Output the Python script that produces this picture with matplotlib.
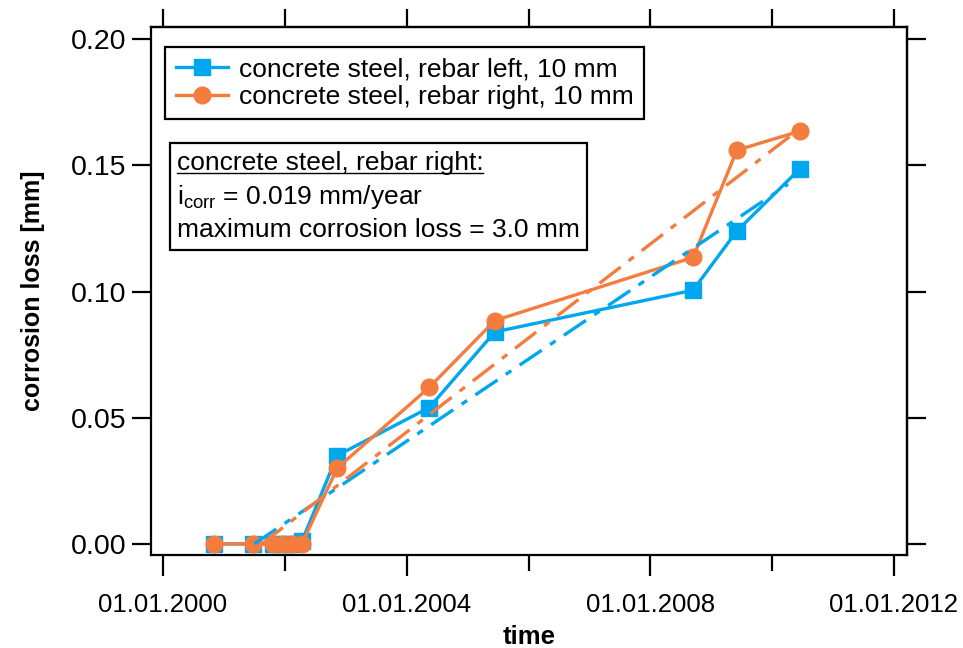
import matplotlib
matplotlib.use("Agg")
import matplotlib.pyplot as plt
import matplotlib.dates as mdates
from matplotlib.patches import Rectangle
from matplotlib.lines import Line2D
import pandas as pd

plt.rcParams['font.family'] = ['Liberation Sans', 'DejaVu Sans']

dates = pd.to_datetime([
    "2000-11-03", "2001-06-24", "2001-10-23", "2001-12-20", "2002-02-14",
    "2002-04-13", "2002-11-10", "2004-05-15", "2005-06-13", "2008-09-13",
    "2009-06-03", "2010-06-14",
])
loss_left = [0.0, 0.0, 0.0, 0.0, 0.0, 0.001, 0.035, 0.054, 0.084, 0.1005, 0.124, 0.1485]
loss_right = [0.0, 0.0, 0.0, 0.0, 0.0, 0.0, 0.030, 0.062, 0.0885, 0.1135, 0.156, 0.1635]

# linear fits (dash-dot), start and end points
fit_left_dates = pd.to_datetime(["2001-07-01", "2010-04-06"])
fit_left_loss = [0.0, 0.1425]
fit_right_dates = pd.to_datetime(["2001-08-15", "2010-05-07"])
fit_right_loss = [0.0, 0.1625]

label_left = "concrete steel, rebar left, 10 mm"
label_right = "concrete steel, rebar right, 10 mm"
info_lines = ["concrete steel, rebar right:",
              r"$\mathregular{i_{corr}}$ = 0.019 mm/year",
              "maximum corrosion loss = 3.0 mm"]

blue = "#00A6EE"
orange = "#F47C3F"
fs = 19

fig = plt.figure(figsize=(9.63, 6.48), dpi=100)
ax = fig.add_axes([151 / 963, 1 - 555 / 648, 756 / 963, 528 / 648])

ax.plot(dates, loss_left, color=blue, lw=2.4, marker='s', ms=12, label=label_left, zorder=3)
ax.plot(dates, loss_right, color=orange, lw=2.4, marker='o', ms=12, label=label_right, zorder=4)
ax.plot(fit_left_dates, fit_left_loss, color=blue, lw=2.4, dashes=(8, 3, 2, 3), zorder=5)
ax.plot(fit_right_dates, fit_right_loss, color=orange, lw=2.4, dashes=(8, 3, 2, 3), zorder=5)

x0 = mdates.date2num(pd.Timestamp("2000-01-01")) - 72
x1 = mdates.date2num(pd.Timestamp("2012-01-01")) + 78
ax.set_xlim(x0, x1)
ax.set_ylim(-0.0044, 0.2048)

major = [pd.Timestamp(f"{y}-01-01") for y in (2000, 2004, 2008, 2012)]
minor = [pd.Timestamp(f"{y}-01-01") for y in (2002, 2006, 2010)]
yticks = [0.0, 0.05, 0.10, 0.15, 0.20]
ax.set_xticks(major)
ax.set_xticklabels([d.strftime("%d.%m.%Y") for d in major])
ax.set_xticks(minor, minor=True)
ax.set_yticks(yticks)
ax.set_yticklabels([f"{v:.2f}" for v in yticks])

for s in ax.spines.values():
    s.set_linewidth(1.6)
ax.tick_params(axis='x', which='major', length=15, width=1.6, labelsize=18.5, pad=12)
ax.tick_params(axis='x', which='minor', length=11.5, width=1.6)
ax.tick_params(axis='y', which='major', length=14, width=1.6, labelsize=20.5, pad=4)

top = ax.secondary_xaxis('top')
top.set_xticks(major[:-1] + minor + major[-1:])
top.tick_params(length=13, width=1.6, labeltop=False)
top.spines['top'].set_linewidth(1.6)
right = ax.secondary_yaxis('right')
right.set_yticks(yticks)
right.tick_params(length=14, width=1.6, labelright=False)
right.spines['right'].set_linewidth(1.6)

ax.set_xlabel("time", fontsize=18.5, fontweight='bold', labelpad=6)
ax.set_ylabel("corrosion loss [mm]", fontsize=18, fontweight='bold', labelpad=18)

leg = ax.legend(loc='upper left', bbox_to_anchor=(0.0185, 0.962), fontsize=fs,
                frameon=True, fancybox=False, framealpha=1, handlelength=2.0,
                handletextpad=0.4, borderpad=0.4, labelspacing=0.12, borderaxespad=0)
leg.get_frame().set_edgecolor('black')
leg.get_frame().set_linewidth(1.6)

# info box
ax.add_patch(Rectangle((0.025, 0.578), 0.552, 0.202, transform=ax.transAxes,
                       fc='white', ec='black', lw=1.6, zorder=6))
texts = []
for txt, yy in zip(info_lines, [0.742, 0.678, 0.616]):
    texts.append(ax.text(0.034, yy, txt, transform=ax.transAxes,
                         fontsize=fs, va='center', zorder=7))

# underline of the first line
fig.canvas.draw()
bb = texts[0].get_window_extent().transformed(ax.transAxes.inverted())
ax.add_line(Line2D([bb.x0, bb.x1], [bb.y0 + 0.004, bb.y0 + 0.004], transform=ax.transAxes,
                   color='black', lw=1.0, zorder=7))

fig.savefig("out.png", dpi=100)
